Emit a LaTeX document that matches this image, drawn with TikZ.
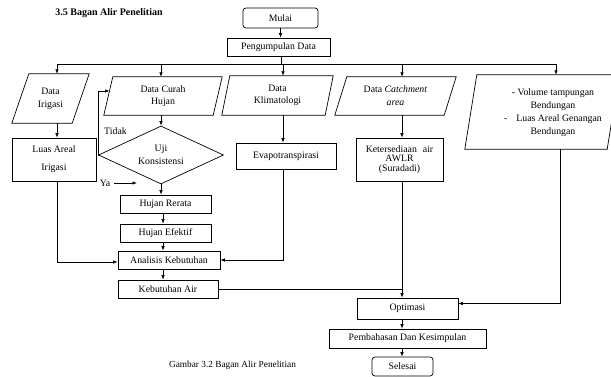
\documentclass[tikz,border=0pt]{standalone}
\usepackage{fontspec}
\setmainfont{Liberation Serif}
\usetikzlibrary{arrows.meta,shapes.geometric,calc}
\newcommand\pgmbox[2]{\draw[ln] ($(#1.south west)+(-#2/2,0)$) -- ($(#1.south east)+(-#2/2,0)$) -- ($(#1.north east)+(#2/2,0)$) -- ($(#1.north west)+(#2/2,0)$) -- cycle;}
\begin{document}
\begin{tikzpicture}[x=1pt,y=-1pt,
  every node/.style={font=\fontsize{9.8}{12}\selectfont, inner sep=0pt, align=center},
  ln/.style={line width=0.7pt},
  box/.style={draw, rectangle, line width=0.7pt},
  rbox/.style={box, rounded corners=3pt},
  pg/.style={rectangle, draw=none},
  dia/.style={draw, diamond, aspect=2.15, line width=0.7pt},
  arr/.style={-{Latex[length=4.5pt,width=3.5pt]}, line width=0.7pt},
  sp/.style={font=\fontsize{9.8}{#1}\selectfont}]
\useasboundingbox (0,0) rectangle (611,377);
\clip (0,0) rectangle (611,377);

% title and caption
\node[font=\fontsize{10}{12}\selectfont\bfseries] (title) at (109,13) {3.5 Bagan Alir Penelitian};
\node[font=\fontsize{9.3}{11}\selectfont] (caption) at (232.5,365) {Gambar 3.2 Bagan Alir Penelitian};

% top
\node[rbox, minimum width=75, minimum height=20] (mulai) at (280.5,18) {Mulai};
\node[box, minimum width=103, minimum height=18] (pd) at (278.5,47) {Pengumpulan Data};

% inputs
\node[pg, sp=13, minimum width=60, minimum height=49] (di) at (50.5,98.5) {Data\\Irigasi};
\pgmbox{di}{17}
\node[pg, sp=11.5, minimum width=109, minimum height=38] (dc) at (163,96) {Data Curah\\Hujan};
\pgmbox{dc}{9}
\node[pg, sp=11.5, minimum width=103, minimum height=39] (dk) at (277.5,95.5) {Data\\Klimatologi};
\pgmbox{dk}{8}
\node[pg, sp=13, minimum width=109, minimum height=38] (dca) at (395.5,96) {Data \textit{Catchment}\\\textit{area}};
\pgmbox{dca}{12}
\node[pg, minimum width=142, minimum height=74] (vol) at (542,112) {};
\pgmbox{vol}{12}
\node[sp=13] (voltxt) at (553,113) {- Volume tampungan\\Bendungan\\-\hspace{9pt}Luas Areal Genangan\\Bendungan};

% middle
\node[box, sp=18, minimum width=84, minimum height=43] (luas) at (54,159.5) {Luas Areal\\Irigasi};
\node[dia, sp=13, minimum width=125, minimum height=58] (uji) at (161,155) {Uji\\Konsistensi};
\node (tidak) at (115.5,131) {Tidak};
\node (ya) at (105,183) {Ya};
\coordinate (yatip) at (137,183);
\node[box, minimum width=100, minimum height=26] (evap) at (286,156) {Evapotranspirasi};
\node[box, sp=9.5, minimum width=87, minimum height=43] (ket) at (399.5,159.5) {Ketersediaan\hspace{6pt}air\\AWLR\\(Suradadi)};

\node[box, minimum width=91, minimum height=18] (hr) at (165.5,204) {Hujan Rerata};
\node[box, minimum width=91, minimum height=18] (he) at (165.5,233) {Hujan Efektif};
\node[box, minimum width=102, minimum height=18] (ak) at (169,260) {Analisis Kebutuhan};
\node[box, minimum width=100, minimum height=18] (ka) at (168,289) {Kebutuhan Air};

% bottom
\node[box, minimum width=101, minimum height=21] (opt) at (407.5,308.5) {Optimasi};
\node[box, minimum width=157, minimum height=19] (pk) at (407.5,338.5) {Pembahasan Dan Kesimpulan};
\node[rbox, minimum width=61, minimum height=19] (sel) at (402.5,366.5) {Selesai};

% coordinates
\coordinate (bus) at (281,64);
\coordinate (x1) at (57,64);
\coordinate (x2) at (161,64);
\coordinate (x3) at (283,64);
\coordinate (x4) at (402,64);
\coordinate (x5) at (556,64);
\coordinate (x6) at (163,64);
\coordinate (x8) at (560,64);
\coordinate (lp) at (98,91);

% connectors
\draw[arr] (mulai.south) -- (mulai.south |- pd.north);
\draw[ln] (bus |- pd.south) -- (bus);
\draw[ln] (x1) -- (x5);
\draw[arr] (x1) -- (x1 |- di.north);
\draw[arr] (x2) -- (x2 |- dc.north);
\draw[arr] (x3) -- (x3 |- dk.north);
\draw[arr] (x4) -- (x4 |- dca.north);
\draw[arr] (x5) -- (x5 |- vol.north);

\draw[arr] (x2 |- dc.south) -- (uji.north);
\draw[arr] (uji.west) -- (uji.west -| lp) |- ($(dc.west)+(1.2,-5)$);
\draw[arr] ([xshift=4pt]ya.east) -- (yatip);
\draw[arr] (uji.south) -- (uji.south |- hr.north);
\draw[arr] (x6 |- hr.south) -- (x6 |- he.north);
\draw[arr] (x6 |- he.south) -- (x6 |- ak.north);
\draw[arr] (x6 |- ak.south) -- (x6 |- ka.north);

\draw[arr] (x1 |- di.south) -- (x1 |- luas.north);
\draw[arr] (x1 |- luas.south) |- ([yshift=-2pt]ak.west);
\draw[arr] (x3 |- dk.south) -- (x3 |- evap.north);
\draw[arr] (x3 |- evap.south) |- (ak.east);
\draw[arr] (x4 |- dca.south) -- (x4 |- ket.north);
\draw[arr] (x4 |- ket.south) -- (x4 |- opt.north);
\draw[ln] (ka.east) -- (x4 |- ka.east);
\draw[arr] (x8 |- vol.south) |- ([yshift=5pt]opt.east);
\draw[arr] (x4 |- opt.south) -- (x4 |- pk.north);
\draw[arr] (x4 |- pk.south) -- (x4 |- sel.north);
\end{tikzpicture}
\end{document}
